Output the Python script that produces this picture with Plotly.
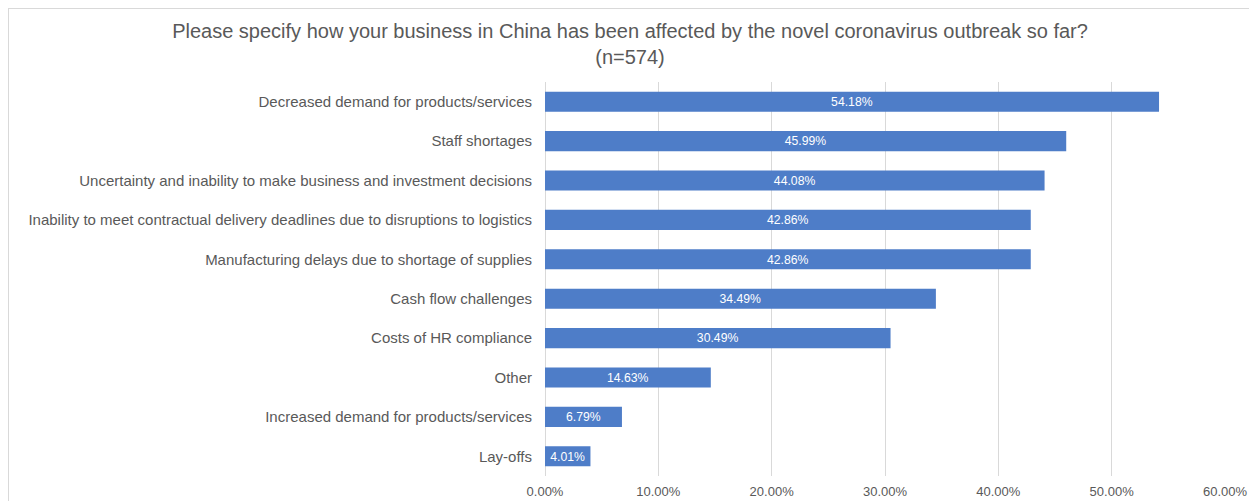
import plotly.graph_objects as go

categories = [
    "Decreased demand for products/services",
    "Staff shortages",
    "Uncertainty and inability to make business and investment decisions",
    "Inability to meet contractual delivery deadlines due to disruptions to logistics",
    "Manufacturing delays due to shortage of supplies",
    "Cash flow challenges",
    "Costs of HR compliance",
    "Other",
    "Increased demand for products/services",
    "Lay-offs",
]
values = [54.18, 45.99, 44.08, 42.86, 42.86, 34.49, 30.49, 14.63, 6.79, 4.01]
tick_vals = [0, 10, 20, 30, 40, 50, 60]
tick_text = ["0.00%", "10.00%", "20.00%", "30.00%", "40.00%", "50.00%", "60.00%"]
title_text = "Please specify how your business in China has been affected by the novel coronavirus outbreak so far?<br>(n=574)"

# page body has an 8px margin, so the figure is sized/positioned accordingly
W, H = 1249, 493
L, R, T, B = 537, 32, 74, 25
pw, ph = W - L - R, H - T - B

fig = go.Figure(go.Bar(
    x=values, y=categories, orientation="h",
    marker=dict(color="#4e7dc8", line=dict(width=0)),
    text=[f"{v:.2f}%" for v in values],
    textposition="inside", insidetextanchor="middle",
    textfont=dict(color="white", size=13, family="Liberation Sans, Arial"),
    cliponaxis=False,
))

def px_x(p):
    return (p - L) / pw

def px_y(p):
    return (H - B - p) / ph

fig.update_layout(
    width=W, height=H,
    margin=dict(l=L, r=R, t=T, b=B),
    paper_bgcolor="white", plot_bgcolor="white",
    font=dict(family="Liberation Sans, Arial", color="#595959"),
    title=dict(text=title_text, x=(622 / W), xanchor="center", y=1 - 30 / H, yanchor="top",
               font=dict(size=20, color="#595959")),
    bargap=0.49,
    showlegend=False,
    xaxis=dict(range=[0, 60], tickvals=tick_vals, ticktext=tick_text,
               showgrid=True, gridcolor="#d9d9d9", gridwidth=1,
               zeroline=True, zerolinecolor="#d9d9d9", zerolinewidth=1,
               showline=False, tickfont=dict(size=13, color="#595959"),
               ticks="", ticklabelstandoff=6, automargin=False, fixedrange=True),
    yaxis=dict(autorange="reversed", categoryorder="array", categoryarray=categories,
               tickfont=dict(size=15, color="#595959"), ticks="", showline=False,
               ticklabelstandoff=12, automargin=False, fixedrange=True),
    uniformtext=dict(mode=False),
    shapes=[dict(type="rect", xref="paper", yref="paper",
                 x0=px_x(0), x1=px_x(1265), y0=px_y(520), y1=px_y(0),
                 line=dict(color="#d9d9d9", width=2), fillcolor="rgba(0,0,0,0)", layer="below")],
)

fig.write_html("out.html")
